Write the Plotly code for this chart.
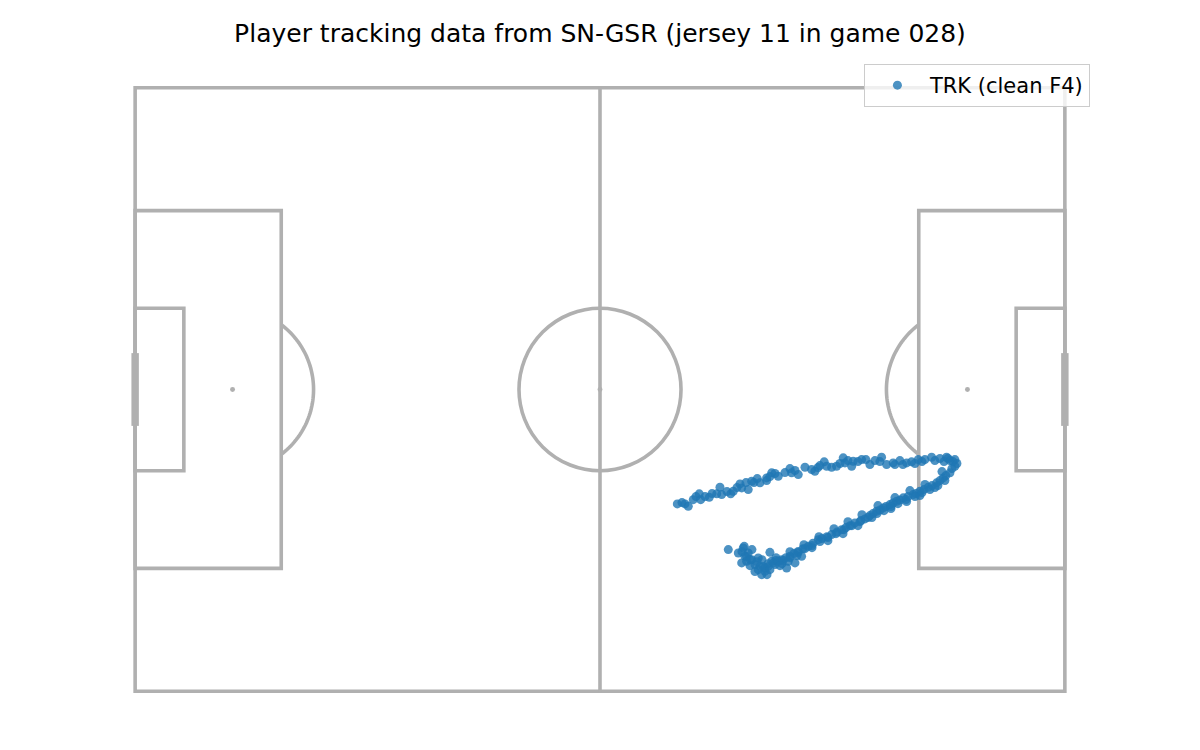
import numpy as np
import plotly.graph_objects as go

# ---- data (pitch metres, origin at centre spot, y up) ----
upper_x = [8.73, 9.26, 9.60, 9.97, 10.53, 10.84, 11.21, 11.37, 11.86, 12.34, 12.65, 13.18, 13.55, 13.74, 14.34,
           14.76, 15.05, 15.47, 15.81, 16.00, 16.49, 16.74, 17.13, 17.39, 17.76, 18.07, 18.82, 18.82, 19.19,
           19.39, 19.76, 20.13, 20.89, 21.45, 21.64, 22.02, 22.39, 23.15, 23.90, 24.27, 24.61, 24.84, 25.32,
           25.60, 26.16, 26.72, 27.10, 27.47, 27.66, 28.00, 28.42, 28.60, 29.13, 29.55, 30.03, 30.48, 31.05,
           31.61, 31.80, 32.37, 33.11, 33.31, 33.87, 34.21, 34.63, 35.19, 35.57, 35.94, 36.36, 36.69, 37.45,
           37.82, 38.39, 39.14, 39.52, 40.08, 40.08]
upper_y = [-12.89, -12.74, -12.89, -13.16, -12.41, -12.07, -11.76, -12.41, -12.07, -12.15, -11.73, -11.76, -11.02, -11.84, -11.50,
           -11.76, -11.47, -11.05, -10.64, -11.09, -10.49, -11.28, -10.34, -10.49, -10.04, -10.52, -9.96, -10.26, -9.81,
           -9.39, -9.47, -9.78, -9.36, -8.91, -9.39, -9.13, -9.59, -8.76, -9.02, -9.21, -8.80, -8.57, -8.15,
           -8.65, -8.76, -8.65, -8.34, -7.70, -8.27, -8.01, -8.65, -8.09, -8.12, -7.90, -7.90, -8.46, -8.01,
           -8.12, -7.63, -8.46, -8.27, -8.46, -8.01, -8.46, -8.27, -8.15, -8.34, -7.90, -8.12, -7.90, -7.63,
           -8.01, -7.78, -7.63, -8.01, -7.90, -8.65]

turn_x = [39.86, 40.31, 39.74, 39.29, 38.85]
turn_y = [-8.12, -8.34, -8.91, -7.78, -8.12]

lower_x = [39.52, 39.06, 38.76, 38.39, 38.02, 37.49, 37.07, 36.58, 36.13, 35.68, 35.37, 34.78, 34.25, 33.87,
           33.50, 33.08, 32.74, 32.29, 31.99, 31.61, 31.24, 30.82, 30.48, 29.92, 29.47, 28.79, 28.23, 27.78,
           27.29, 26.76, 26.16, 25.63, 25.07, 24.65, 24.05, 23.52, 22.92, 22.39, 21.90, 21.45, 21.00, 20.52,
           19.87, 19.39, 18.97,
           37.82, 36.13, 34.63, 32.86, 30.71, 29.13, 27.44, 25.74, 23.94, 22.24, 20.55,
           38.62, 36.70, 35.00, 33.31, 31.39, 29.58, 28.00, 26.42, 24.73, 23.03, 21.45, 19.87,
           38.95, 38.16, 37.26, 36.36, 35.57, 34.56, 33.65, 32.86, 32.07, 31.28, 30.26, 29.36, 28.45, 27.55,
           26.65, 25.74, 24.84, 23.94, 23.15, 22.36, 21.45, 20.66, 19.76, 18.97]
lower_y = [-9.39, -9.70, -9.96, -10.26, -10.52, -10.83, -11.02, -11.28, -11.47, -11.73, -11.84, -12.07, -12.21, -12.46,
           -12.60, -12.80, -12.97, -13.19, -13.34, -13.59, -13.72, -13.98, -14.21, -14.58, -14.77, -15.03, -15.34, -15.56,
           -15.79, -16.07, -16.35, -16.58, -16.80, -16.92, -17.31, -17.67, -17.93, -18.24, -18.49, -18.80, -18.95, -19.17,
           -19.28, -19.36, -19.62,
           -11.05, -11.95, -12.63, -13.42, -14.43, -15.34, -16.24, -17.03, -17.82, -18.72, -19.62,
           -9.25, -10.71, -11.39, -12.18, -13.08, -14.10, -14.89, -15.68, -16.58, -17.48, -18.27, -18.95,
           -10.26, -10.83, -11.28, -11.62, -12.07, -12.40, -12.86, -13.19, -13.65, -13.98, -14.43, -14.89, -15.34, -15.79,
           -16.24, -16.69, -17.14, -17.59, -17.93, -18.38, -18.95, -19.28, -19.73, -19.96]

cluster_x = [18.63, 18.26, 17.87, 17.50, 17.13, 16.56, 16.18, 15.62, 14.49, 19.19, 21.08, 16.29, 16.74, 16.56,
             18.07, 18.63, 18.44, 19.57, 20.13, 21.26, 22.02, 22.77, 17.87, 16.37, 16.00, 17.50, 16.94,
             17.16, 17.73, 18.29, 18.86, 16.94, 19.19, 20.32, 16.03]
cluster_y = [-20.11, -20.86, -20.30, -19.73, -19.17, -18.80, -17.85, -18.42, -18.04, -18.35, -20.11, -17.67, -18.42, -19.36,
             -19.93, -20.49, -19.93, -19.54, -19.36, -19.36, -19.54, -18.80, -18.98, -18.80, -19.54, -20.52, -19.85,
             -18.04, -19.40, -19.17, -20.86, -19.17, -20.30, -19.85, -18.27]

track_x = upper_x + turn_x + lower_x + cluster_x
track_y = upper_y + turn_y + lower_y + cluster_y

title_text = "Player tracking data from SN-GSR (jersey 11 in game 028)"
legend_label = "TRK (clean F4)"

# ---- pitch geometry (metres) ----
L, W = 105.0, 68.0
hl, hw = L / 2, W / 2
LINE = "#b0b0b0"
LW = 3.6

fig = go.Figure()
shapes = []

def line_shape(x0, y0, x1, y1, width=LW):
    return dict(type="line", x0=x0, y0=y0, x1=x1, y1=y1, xref="x", yref="y",
                line=dict(color=LINE, width=width), layer="below")

def rect_shape(x0, y0, x1, y1):
    return dict(type="rect", x0=x0, y0=y0, x1=x1, y1=y1, xref="x", yref="y",
                line=dict(color=LINE, width=LW), layer="below")

shapes.append(rect_shape(-hl, -hw, hl, hw))
shapes.append(line_shape(0, -hw, 0, hw))
r = 9.15
shapes.append(dict(type="circle", x0=-r, y0=-r, x1=r, y1=r, xref="x", yref="y",
                   line=dict(color=LINE, width=LW), layer="below"))
sr = 0.28
for sx in (0.0, -hl + 11.0, hl - 11.0):
    shapes.append(dict(type="circle", x0=sx - sr, y0=-sr, x1=sx + sr, y1=sr, xref="x", yref="y",
                       fillcolor=LINE, line=dict(color=LINE, width=0), layer="below"))
pb_w, pb_d = 40.32, 16.5
sb_w, sb_d = 18.32, 5.5
for s in (-1, 1):
    x_goal = s * hl
    shapes.append(rect_shape(x_goal, -pb_w / 2, x_goal - s * pb_d, pb_w / 2))
    shapes.append(rect_shape(x_goal, -sb_w / 2, x_goal - s * sb_d, sb_w / 2))
    shapes.append(dict(type="rect", x0=x_goal - 0.42, x1=x_goal + 0.42, y0=-4.1, y1=4.1,
                       xref="x", yref="y", fillcolor=LINE, line=dict(width=0), layer="below"))
    spot = x_goal - s * 11.0
    edge = x_goal - s * pb_d
    ang = np.arccos((edge - spot) * s * -1 / r)
    t = np.linspace(-ang, ang, 60)
    ax_ = spot - s * r * np.cos(t)
    ay_ = r * np.sin(t)
    path = "M " + " L ".join(f"{a:.4f},{b:.4f}" for a, b in zip(ax_, ay_))
    shapes.append(dict(type="path", path=path, xref="x", yref="y",
                       line=dict(color=LINE, width=LW), layer="below"))

fig.add_trace(go.Scatter(
    x=track_x, y=track_y, mode="markers", name=legend_label,
    marker=dict(color="#1f77b4", size=9, opacity=0.8, line=dict(width=0)),
    showlegend=True,
))

fig.update_layout(
    width=1200, height=750,
    paper_bgcolor="white", plot_bgcolor="white",
    margin=dict(l=105, r=121, t=62, b=49, pad=0),
    shapes=shapes,
    xaxis=dict(range=[-55, 55], visible=False, fixedrange=True),
    yaxis=dict(range=[-36, 36], visible=False, fixedrange=True),
    title=dict(text=title_text, x=(600 - 8) / 1200, xanchor="center", y=1 - 25 / 750, yanchor="middle",
               yref="container", font=dict(family="DejaVu Sans", size=25, color="black")),
    font=dict(family="DejaVu Sans", color="black"),
    legend=dict(x=1.003, xanchor="right", y=1.0094, yanchor="top",
                bgcolor="rgba(255,255,255,0.8)", bordercolor="#cccccc", borderwidth=1,
                font=dict(family="DejaVu Sans", size=21, color="black"), itemwidth=55),
    showlegend=True,
)

fig.write_html("out.html")
